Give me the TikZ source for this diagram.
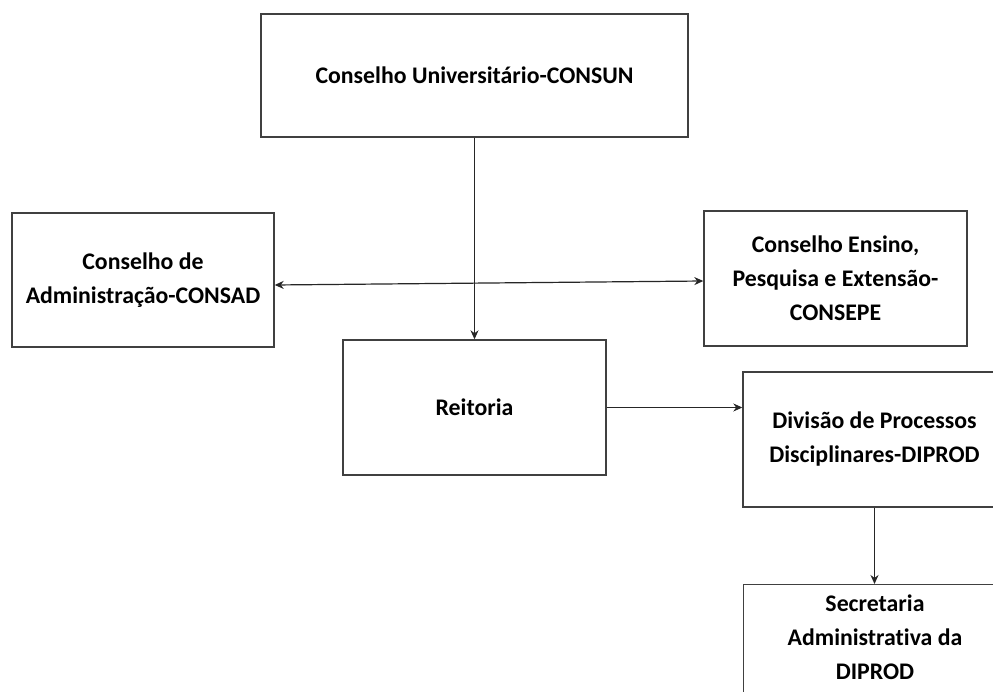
\documentclass[tikz,border=0pt]{standalone}
\usepackage{fontspec}
\setmainfont{Carlito}[Ligatures=CommonOff]
\usetikzlibrary{arrows.meta}
\definecolor{edge}{HTML}{404040}
\tikzset{
  box/.style={draw=edge, line width=1.4pt, fill=white, rectangle, inner sep=0pt, align=center,
    font=\fontsize{23.8}{34}\selectfont\bfseries, text=black},
  lbl/.style={inner sep=0pt, align=center, font=\fontsize{23.8}{34}\selectfont\bfseries, text=black},
  arr/.style={draw=black!85, line width=1.2pt, -{Stealth[length=9pt,width=8pt]}},
  dbl/.style={draw=black!85, line width=1.2pt, {Stealth[length=9pt,width=8pt]}-{Stealth[length=9pt,width=8pt]}}
}
\begin{document}
\begin{tikzpicture}[x=1pt,y=-1pt]
\useasboundingbox (0,0) rectangle (993,692);
\clip (0,0) rectangle (993,692);
\fill[white] (0,0) rectangle (993,692);
\node[box, minimum width=427, minimum height=123] (consun) at (474.5,75.5) {Conselho Universitário-CONSUN};
\node[box, minimum width=262, minimum height=134] (consad) at (143,280) {Conselho de\\Administração-CONSAD};
\node[box, minimum width=263, minimum height=135] (consepe) at (835.5,278.5) {Conselho Ensino,\\Pesquisa e Extensão-\\CONSEPE};
\node[box, minimum width=263, minimum height=135] (reit) at (474.5,407.5) {Reitoria};
\node[box, minimum width=263, minimum height=135] (dip) at (874.5,439.5) {Divisão de Processos\\Disciplinares-DIPROD};
\node[box, minimum width=263, minimum height=136, anchor=north west] (sec) at (743,584) {};
\node[lbl] (sectext) at (875,637) {Secretaria\\Administrativa da\\DIPROD};
\draw[dbl] ([yshift=-5pt]consad.east) -- ([yshift=-2.5pt]consepe.west);
\draw[arr] (consun.south) -- (reit.north);
\draw[arr] (reit.east) -- (reit.east -| dip.west);
\draw[arr] (dip.south) -- (sec.north -| dip.south);
\end{tikzpicture}
\end{document}
